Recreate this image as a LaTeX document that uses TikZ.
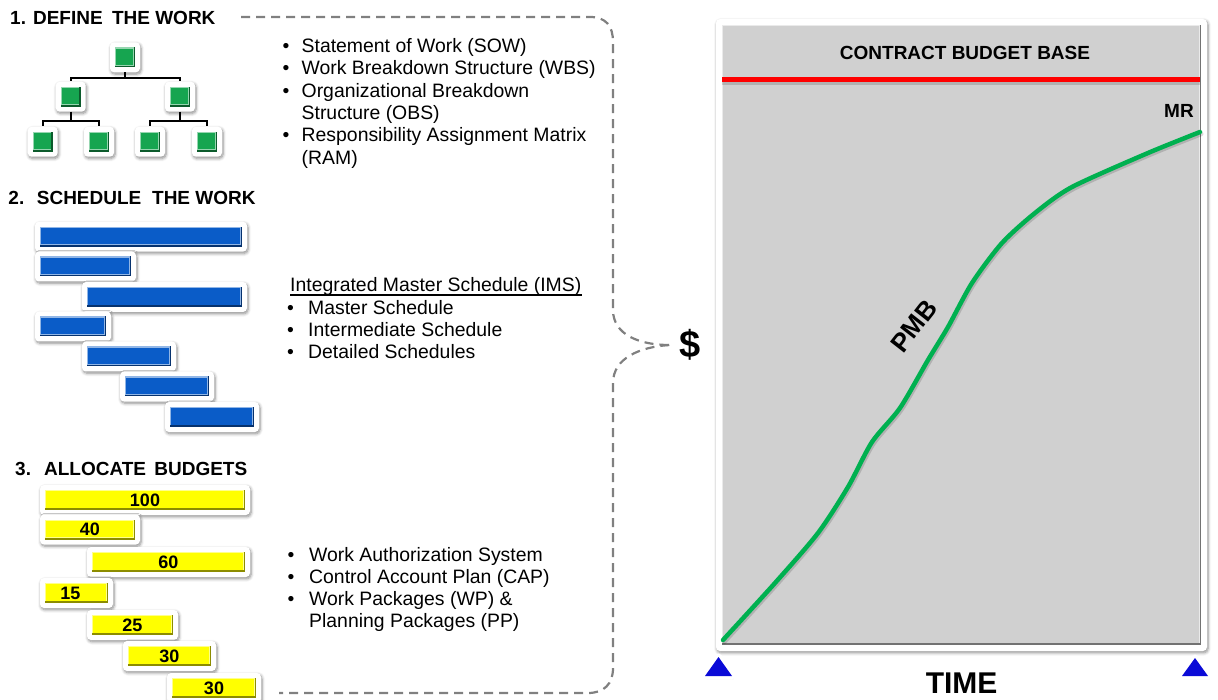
\documentclass[tikz,border=0pt]{standalone}
\usepackage{fontspec}
\setmainfont{Liberation Sans}
\usetikzlibrary{calc,shadows.blur}
\definecolor{wbsgreen}{RGB}{22,165,80}
\definecolor{barblue}{RGB}{10,92,200}
\definecolor{baryellow}{RGB}{255,255,0}
\definecolor{chartgray}{RGB}{208,208,208}
\definecolor{pmbgreen}{RGB}{0,176,80}
\definecolor{dashgray}{RGB}{128,128,128}
\definecolor{triblue}{RGB}{10,10,215}
\tikzset{
  bevel/.style 2 args={rectangle, rounded corners=4pt, fill=white, draw=none, inner sep=0pt,
    blur shadow={shadow blur radius=3pt, shadow xshift=1pt, shadow yshift=-1.8pt, shadow opacity=45, shadow blur steps=6},
    path picture={
      \path ([shift={(#2,#2)}]path picture bounding box.south west) coordinate (@sw)
            ([shift={(-#2,-#2)}]path picture bounding box.north east) coordinate (@ne);
      \fill[#1!55!black, sharp corners] (@sw) rectangle (@ne);
      \fill[#1!45!white, sharp corners] ([shift={(0pt,1.6pt)}]@sw) rectangle ([shift={(-1.4pt,0pt)}]@ne);
      \fill[#1, sharp corners] ([shift={(1.3pt,2.2pt)}]@sw) rectangle ([shift={(-1.6pt,-1.3pt)}]@ne);
    }},
  wbsbox/.style={bevel={wbsgreen}{5pt}, minimum size=30pt},
  schedbar/.style={bevel={barblue}{5pt}, minimum height=30pt, minimum width=#1},
  budgetbar/.style={bevel={baryellow}{5pt}, minimum height=30pt, minimum width=#1,
    font=\fontsize{18}{20}\selectfont\bfseries},
  treeline/.style={draw=black, line width=2pt},
  txt/.style={inner sep=0pt, anchor=base west, font=\fontsize{19.4}{22.3}\selectfont},
  heading/.style={inner sep=0pt, anchor=base west, font=\fontsize{19}{22}\selectfont\bfseries},
  dashln/.style={draw=dashgray, line width=2.2pt, dash pattern=on 9pt off 6pt},
  pmbline/.style={draw=pmbgreen, line width=4.5pt, line cap=round, line join=round},
  cbbline/.style={draw=red, line width=5.3pt},
  trishape/.style={fill=triblue, preaction={draw=white, line width=7pt, line join=round}},
}
\begin{document}
\begin{tikzpicture}[x=1pt,y=-1pt]
\useasboundingbox (0,0) rectangle (1218,700);

% ---------- headings ----------
\node[heading] (h1) at (10,25) {1. DEFINE\hspace{4pt} THE WORK};
\node[heading] (h2) at (8.3,205) {2.\hspace{5.5pt} SCHEDULE\hspace{5.5pt} THE WORK};
\node[heading] (h3) at (15,475) {3.\hspace{6pt} ALLOCATE\hspace{3pt} BUDGETS};

% ---------- WBS tree ----------
\node[wbsbox] (t0) at (125,57.3) {};
\node[wbsbox] (t1) at (70.7,96.7) {};
\node[wbsbox] (t2) at (180,96.7) {};
\node[wbsbox] (t3) at (42.7,141.7) {};
\node[wbsbox] (t4) at (99,141.7) {};
\node[wbsbox] (t5) at (150,141.7) {};
\node[wbsbox] (t6) at (207,141.7) {};
\draw[treeline] (t0.south) -- ++(0,5.5) -| (t1.north);
\draw[treeline] (t0.south) -- ++(0,5.5) -| (t2.north);
\draw[treeline] (t1.south) -- ++(0,9.5) -| (t3.north);
\draw[treeline] (t1.south) -- ++(0,9.5) -| (t4.north);
\draw[treeline] (t2.south) -- ++(0,9.5) -| (t5.north);
\draw[treeline] (t2.south) -- ++(0,9.5) -| (t6.north);

% ---------- schedule bars ----------
\node[schedbar=212pt] (s1) at (141,236.7) {};
\node[schedbar=101pt] (s2) at (85.5,266.5) {};
\node[schedbar=165pt] (s3) at (164.5,297) {};
\node[schedbar=76pt]  (s4) at (73,326.5) {};
\node[schedbar=94pt]  (s5) at (129,356.5) {};
\node[schedbar=94pt]  (s6) at (167,386.5) {};
\node[schedbar=94pt]  (s7) at (212,417) {};

% ---------- budget bars ----------
\node[budgetbar=210pt] (b1) at (145,500) {100};
\node[budgetbar=100pt] (b2) at (90,529.5) {40};
\node[budgetbar=163pt] (b3) at (168.5,562) {60};
\node[budgetbar=73pt]  (b4) at (76.5,593) {\hspace*{-12pt}15};
\node[budgetbar=91pt]  (b5) at (132.5,625) {25};
\node[budgetbar=93pt]  (b6) at (169.5,656) {30};
\node[budgetbar=94pt]  (b7) at (214,688) {30};

% ---------- text blocks ----------
\node[txt] (sow) at (282.5,52.7) {\begin{tabular}[t]{@{}p{19pt}@{}l@{}}
• & Statement of Work (SOW)\\
• & Work Breakdown Structure (WBS)\\
• & Organizational Breakdown\\
  & Structure (OBS)\\
• & Responsibility Assignment Matrix\\
  & (RAM)
\end{tabular}};

\node[txt] (ims) at (290,291.7) {Integrated Master Schedule (IMS)};
\draw[line width=1.2pt] ([yshift=-3.3pt]ims.base west) -- ([yshift=-3.3pt]ims.base east);
\node[txt] (schedlist) at (287,314.3) {\begin{tabular}[t]{@{}p{21pt}@{}l@{}}
• & Master Schedule\\
• & Intermediate Schedule\\
• & Detailed Schedules
\end{tabular}};

\node[txt] (was) at (287.5,561) {\begin{tabular}[t]{@{}p{21.5pt}@{}l@{}}
• & Work Authorization System\\
• & Control Account Plan (CAP)\\
• & Work Packages (WP) \&\\
  & Planning Packages (PP)
\end{tabular}};

% ---------- chart ----------
\node[bevel={chartgray}{6pt}, minimum width=491pt, minimum height=632pt] (chart) at (961.5,335) {};
\draw[cbbline, draw=black, opacity=0.15] (722,82.3) -- (1199.5,82.3);
\draw[cbbline] (722,79.3) -- (1199.5,79.3);
\node[heading, anchor=base] (cbb) at (965,60) {CONTRACT BUDGET BASE};
\node[heading] (mr) at (1164,117.3) {MR};

\draw[pmbline, draw=black, opacity=0.15, transform canvas={shift={(1.2pt,-2pt)}}] plot[smooth, tension=0.45] coordinates {(723,640) (775,583) (818,533) (848,487) (872,442) (900,408) (928,360) (948,327) (972,283) (1002,243) (1035,213) (1072,187) (1148,153) (1200,132)};
\draw[pmbline] plot[smooth, tension=0.45] coordinates {(723,640) (775,583) (818,533) (848,487) (872,442) (900,408) (928,360) (948,327) (972,283) (1002,243) (1035,213) (1072,187) (1148,153) (1200,132)};
\node[inner sep=0pt, rotate=52, font=\fontsize{26}{28}\selectfont\bfseries] (pmb) at (914,326) {PMB};

% triangles
\fill[black, opacity=0.15] (706.5,679) -- (720,660) -- (733.5,679) -- cycle;
\fill[trishape] (705,676) -- (718.5,657) -- (732,676) -- cycle;
\fill[black, opacity=0.15] (1183.5,679) -- (1196.5,661) -- (1209.5,679) -- cycle;
\fill[trishape] (1182,676) -- (1195,658) -- (1208,676) -- cycle;

\node[heading, anchor=base, font=\fontsize{30}{32}\selectfont\bfseries] (time) at (961.6,693.3) {TIME};

% ---------- dollar and brace ----------
\node[inner sep=0pt, inner xsep=10pt, font=\fontsize{38}{40}\selectfont\bfseries] (dollar) at (690,345) {\$};
\coordinate (dtop) at (241,17);
\coordinate (dbot) at (279,693);
\draw[dashln] (dtop) -- (590,17) .. controls (606,17) and (613,26) .. (613,42) -- (613,310) .. controls (613,335) and (640,345) .. (dollar.west);
\draw[dashln] (dollar.west) .. controls (640,347) and (613,358) .. (613,383) -- (613,668) .. controls (613,684) and (604,693) .. (588,693) -- (dbot);
\end{tikzpicture}
\end{document}
